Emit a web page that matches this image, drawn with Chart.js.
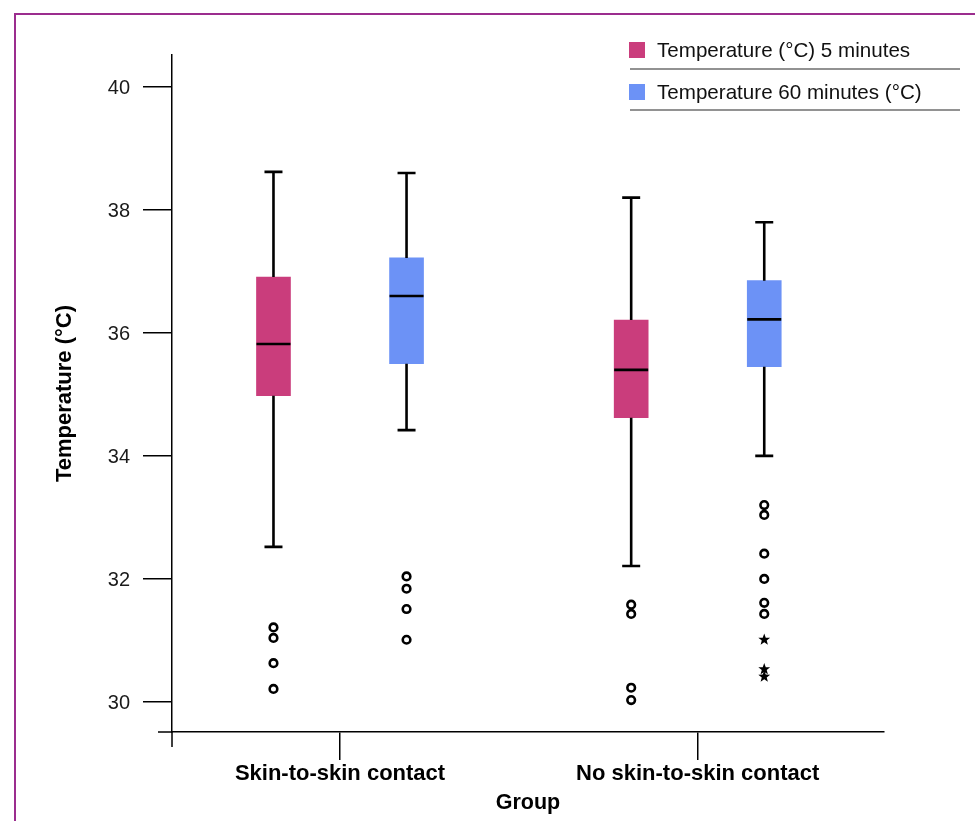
<!DOCTYPE html>
<html><head><meta charset="utf-8">
<script src="https://cdn.jsdelivr.net/npm/chart.js@4"></script>
<style>
html,body{margin:0;padding:0;background:#fff;overflow:hidden;width:975px;height:821px;}
#frame{position:absolute;left:14px;top:13px;width:1200px;height:1200px;border-left:2px solid #9b2d8e;border-top:2px solid #9b2d8e;}
#wrap{position:absolute;left:0;top:0;width:975px;height:821px;}
</style></head><body>
<div id="frame"></div>
<div id="wrap"><canvas id="c" width="975" height="821"></canvas></div>
<script>
const groups = ['Skin-to-skin contact', 'No skin-to-skin contact'];
const seriesNames = ['Temperature (°C) 5 minutes', 'Temperature 60 minutes (°C)'];
const seriesColors = ['#ca3d7c', '#6c92f6'];
const yTicks = [30, 32, 34, 36, 38, 40];

// 5 minutes: per group
const min5 = [32.52, 32.21];
const q1_5 = [34.98, 34.62];
const med5 = [35.82, 35.40];
const q3_5 = [36.91, 36.21];
const max5 = [38.62, 38.20];
const outliers5 = [[31.21, 31.04, 30.63, 30.21], [31.58, 31.43, 30.23, 30.03]];
const extremes5 = [[], []];

// 60 minutes: per group
const min60 = [34.42, 34.00];
const q1_60 = [35.50, 35.45];
const med60 = [36.60, 36.22];
const q3_60 = [37.22, 36.85];
const max60 = [38.60, 37.80];
const outliers60 = [[32.04, 31.84, 31.51, 31.01], [33.20, 33.04, 32.41, 32.00, 31.61, 31.43]];
const extremes60 = [[], [31.01, 30.53, 30.41]];

const FONT = '"Liberation Sans", Arial, Helvetica, sans-serif';
const SERIES_SHIFT = 0.186;

function makeDataset(si, q1, q3, mn, md, mx, outs, exts) {
  const shift = (si === 0 ? -1 : 1) * SERIES_SHIFT;
  return {
    label: seriesNames[si],
    backgroundColor: seriesColors[si],
    borderWidth: 0,
    barThickness: 34,
    grouped: false,
    data: groups.map((g, i) => ({ x: i + 1 + shift, y: [q1[i], q3[i]] })),
    stats: groups.map((g, i) => ({ min: mn[i], med: md[i], max: mx[i], out: outs[i], ext: exts[i] }))
  };
}

const datasets = [
  makeDataset(0, q1_5, q3_5, min5, med5, max5, outliers5, extremes5),
  makeDataset(1, q1_60, q3_60, min60, med60, max60, outliers60, extremes60)
];

function drawStar(ctx, x, y, r) {
  ctx.beginPath();
  for (let k = 0; k < 10; k++) {
    const rad = k % 2 === 0 ? r : r * 0.42;
    const a = -Math.PI / 2 + k * Math.PI / 5;
    const px = x + rad * Math.cos(a), py = y + rad * Math.sin(a);
    if (k === 0) ctx.moveTo(px, py); else ctx.lineTo(px, py);
  }
  ctx.closePath();
  ctx.fill();
}

const boxPlugin = {
  id: 'boxExtras',
  afterDatasetsDraw(chart) {
    const ctx = chart.ctx;
    const ys = chart.scales.y;
    ctx.save();
    ctx.strokeStyle = '#000';
    ctx.fillStyle = '#000';
    chart.data.datasets.forEach((ds, di) => {
      const meta = chart.getDatasetMeta(di);
      meta.data.forEach((el, i) => {
        const st = ds.stats[i];
        const x = el.x, w = el.width;
        const top = Math.min(el.y, el.base), bot = Math.max(el.y, el.base);
        const yMax = ys.getPixelForValue(st.max), yMin = ys.getPixelForValue(st.min);
        const yMed = ys.getPixelForValue(st.med);
        const cap = 9;
        ctx.lineWidth = 2.6;
        ctx.beginPath();
        ctx.moveTo(x, top); ctx.lineTo(x, yMax);
        ctx.moveTo(x - cap, yMax); ctx.lineTo(x + cap, yMax);
        ctx.moveTo(x, bot); ctx.lineTo(x, yMin);
        ctx.moveTo(x - cap, yMin); ctx.lineTo(x + cap, yMin);
        ctx.stroke();
        ctx.beginPath();
        ctx.moveTo(x - w / 2, yMed); ctx.lineTo(x + w / 2, yMed);
        ctx.stroke();
        ctx.lineWidth = 2.6;
        st.out.forEach(v => {
          ctx.beginPath();
          ctx.arc(x, ys.getPixelForValue(v), 3.8, 0, Math.PI * 2);
          ctx.stroke();
        });
        st.ext.forEach(v => drawStar(ctx, x, ys.getPixelForValue(v), 6.2));
      });
    });
    ctx.restore();
  },
  afterDraw(chart) {
    const ctx = chart.ctx;
    const a = chart.chartArea;
    ctx.save();
    ctx.strokeStyle = '#000';
    ctx.lineWidth = 1.5;
    ctx.beginPath();
    ctx.moveTo(a.left - 14, a.bottom); ctx.lineTo(a.left, a.bottom);
    ctx.moveTo(a.left, a.bottom); ctx.lineTo(a.left, a.bottom + 15);
    ctx.stroke();
    // legend
    const lx = 629, rowY = [50, 92], lineY = [69, 110];
    ctx.font = '20.6px ' + FONT;
    ctx.textBaseline = 'middle';
    ctx.textAlign = 'left';
    seriesNames.forEach((name, s) => {
      ctx.fillStyle = seriesColors[s];
      ctx.fillRect(lx, rowY[s] - 8, 16, 16);
      ctx.fillStyle = '#111';
      ctx.fillText(name, lx + 28, rowY[s] + 1);
      ctx.strokeStyle = '#6e6e6e';
      ctx.lineWidth = 1.5;
      ctx.beginPath();
      ctx.moveTo(lx + 1, lineY[s]); ctx.lineTo(960, lineY[s]);
      ctx.stroke();
    });
    ctx.restore();
  }
};

new Chart(document.getElementById('c'), {
  type: 'bar',
  data: { datasets },
  options: {
    responsive: false,
    animation: false,
    devicePixelRatio: 1,
    layout: { padding: { top: 55, right: 91, left: 50, bottom: 0 } },
    plugins: { legend: { display: false }, tooltip: { enabled: false } },
    scales: {
      x: {
        type: 'linear',
        min: 0.5303,
        max: 2.5208,
        offset: false,
        afterBuildTicks: (s) => { s.ticks = groups.map((g, i) => ({ value: i + 1 })); },
        afterFit: (s) => { s.height = 89; },
        grid: { drawOnChartArea: false, drawTicks: true, tickLength: 28, color: '#000', lineWidth: 1.5, offset: false },
        border: { display: true, color: '#000', width: 1.5 },
        ticks: {
          autoSkip: false, maxRotation: 0, padding: 1,
          color: '#000',
          font: { family: FONT, size: 22, weight: 'bold' },
          callback: (v) => groups[Math.round(v) - 1] || ''
        },
        title: {
          display: true, text: 'Group', color: '#000',
          font: { family: FONT, size: 21.5, weight: 'bold' },
          padding: { top: 0, bottom: 5 }
        }
      },
      y: {
        type: 'linear',
        min: 29.51,
        max: 40.52,
        afterBuildTicks: (s) => { s.ticks = yTicks.map(v => ({ value: v })); },
        afterFit: (s) => { s.width = 122; },
        grid: { drawOnChartArea: false, drawTicks: true, tickLength: 29, color: '#000', lineWidth: 1.5 },
        border: { display: true, color: '#000', width: 1.5 },
        ticks: {
          padding: 13, labelOffset: 2, color: '#1a1a1a',
          font: { family: FONT, size: 20 },
          callback: (v) => String(v)
        },
        title: {
          display: true, text: 'Temperature (°C)', color: '#000',
          font: { family: FONT, size: 22, weight: 'bold' },
          padding: { top: 2, bottom: 0 }
        }
      }
    }
  },
  plugins: [boxPlugin]
});
</script>
</body></html>
